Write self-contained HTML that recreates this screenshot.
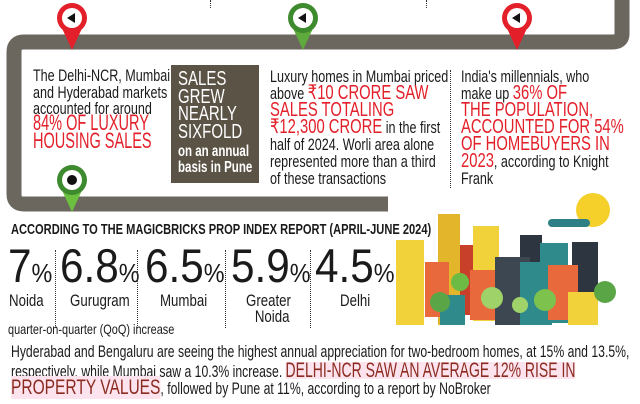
<!DOCTYPE html>
<html><head><meta charset="utf-8"><style>
*{margin:0;padding:0;box-sizing:border-box}
body{width:640px;height:404px;background:#fff;position:relative;overflow:hidden;font-family:"Liberation Sans",sans-serif;color:#1a1a1a}
.a{position:absolute;white-space:nowrap;transform-origin:0 0}
.r{color:#e3202a}
.t{font-size:17px;line-height:16.5px;transform:scaleX(.74)}
.rc{font-size:20px}
.num{font-size:47px;line-height:46px;transform:scaleX(.9)}
.num span{font-size:26px}
.lbl{font-size:17px;line-height:16px;text-align:center;transform:scaleX(.78)}
.dv{position:absolute;border-left:1.5px dotted #333}
</style></head><body>
<svg class="a" style="left:0;top:0" width="640" height="404">
 <path d="M622 0 V34 Q622 42 612 42 H24 Q14 42 14 52 V194 Q14 204 24 204 H388" fill="none" stroke="#6b675f" stroke-width="15"/>
 <g>
  <path d="M60 24 L72 50 L84 24 Z" fill="#e3202a"/><circle cx="72" cy="18" r="15" fill="#e3202a"/><circle cx="72" cy="18" r="10" fill="#fff"/><path d="M67 18 L75 13 V23 Z" fill="#111"/>
  <path d="M291 24 L303 50 L315 24 Z" fill="#5faa3c"/><circle cx="303" cy="18" r="15" fill="#3e8a2e"/><circle cx="303" cy="18" r="10" fill="#fff"/><path d="M298 18 L306 13 V23 Z" fill="#111"/>
  <path d="M505 24 L517 50 L529 24 Z" fill="#e3202a"/><circle cx="517" cy="18" r="15" fill="#e3202a"/><circle cx="517" cy="18" r="10" fill="#fff"/><path d="M512 18 L520 13 V23 Z" fill="#111"/>
  <path d="M72 212 L60 186 L84 186 Z" fill="#6cbf3f"/><circle cx="72" cy="180" r="15" fill="#3e8a2e"/><circle cx="72" cy="180" r="10" fill="#fff"/><circle cx="72" cy="180" r="5" fill="#111"/>
 </g>
 <circle cx="593" cy="210" r="17" fill="#f5cf2a"/>
 <rect x="548" y="219" width="42" height="8" rx="4" fill="#2e7f86"/>
 <rect x="396" y="240" width="28" height="85" fill="#f2d23a"/>
 <rect x="438" y="214" width="22" height="111" fill="#e2b52a"/>
 <rect x="460" y="245" width="14" height="70" fill="#c9402a"/>
 <rect x="473" y="226" width="26" height="95" fill="#f2d23a"/>
 <rect x="425" y="262" width="24" height="55" fill="#e86a3c"/>
 <rect x="470" y="270" width="26" height="50" fill="#e86a3c"/>
 <rect x="520" y="235" width="22" height="85" fill="#2d3640"/>
 <rect x="540" y="243" width="28" height="80" fill="#2f8b8b"/>
 <rect x="572" y="242" width="26" height="80" fill="#2d3640"/>
 <rect x="495" y="257" width="35" height="68" fill="#3d4752"/>
 <rect x="520" y="262" width="32" height="63" fill="#2f8b8b"/>
 <rect x="548" y="265" width="30" height="55" fill="#e86a3c"/>
 <rect x="568" y="292" width="30" height="33" fill="#f2d23a"/>
 <rect x="440" y="295" width="25" height="30" fill="#2f8b8b"/>
 <circle cx="440" cy="302" r="10" fill="#5aa646"/><circle cx="492" cy="298" r="11" fill="#9fd36a"/><circle cx="545" cy="300" r="11" fill="#7cc24d"/><circle cx="605" cy="292" r="11" fill="#5aa646"/><circle cx="460" cy="282" r="9" fill="#6dbb44"/><circle cx="520" cy="305" r="8" fill="#9fd36a"/>
</svg>
<div class="dv" style="left:210px;top:0;height:8px"></div>
<div class="dv" style="left:426px;top:0;height:8px"></div>
<div class="dv" style="left:450px;top:70px;height:118px"></div>

<div class="a t" style="left:33px;top:68px">The Delhi-NCR, Mumbai,<br>and Hyderabad markets<br>accounted for around</div>
<div class="a r" style="left:33px;top:114px;font-size:22px;line-height:18px;transform:scaleX(.66)">84% OF LUXURY<br>HOUSING SALES</div>

<div class="a" style="left:171px;top:65px;width:88px;height:118px;background:#5b5345"></div>
<div class="a" style="left:178px;top:71px;color:#fff;font-size:20px;line-height:17.5px;transform:scaleX(.75)">SALES<br>GREW<br>NEARLY<br>SIXFOLD</div>
<div class="a" style="left:178px;top:144px;color:#fff;font-size:16px;line-height:16px;font-weight:bold;transform:scaleX(.72)">on an annual<br>basis in Pune</div>

<div class="a t" style="left:270px;top:68px;line-height:17px">Luxury homes in Mumbai priced<br>above <span class="r rc">₹10 CRORE SAW</span><br><span class="r rc">SALES TOTALING</span><br><span class="r rc">₹12,300 CRORE</span> in the first<br>half of 2024. Worli area alone<br>represented more than a third<br>of these transactions</div>

<div class="a t" style="left:461px;top:68px;line-height:17px">India's millennials, who<br>make up <span class="r rc">36% OF</span><br><span class="r rc">THE POPULATION,</span><br><span class="r rc">ACCOUNTED FOR 54%</span><br><span class="r rc">OF HOMEBUYERS IN</span><br><span class="r rc">2023</span>, according to Knight<br>Frank</div>

<div class="a" style="left:11px;top:221px;font-size:15px;font-weight:bold;transform:scaleX(.74)">ACCORDING TO THE MAGICBRICKS PROP INDEX REPORT (APRIL-JUNE 2024)</div>
<div class="a num" style="left:8px;top:243px">7<span>%</span></div>
<div class="a num" style="left:60px;top:243px">6.8<span>%</span></div>
<div class="a num" style="left:145px;top:243px">6.5<span>%</span></div>
<div class="a num" style="left:231px;top:243px">5.9<span>%</span></div>
<div class="a num" style="left:315px;top:243px">4.5<span>%</span></div>
<div class="dv" style="left:55px;top:250px;height:78px"></div>
<div class="dv" style="left:137px;top:250px;height:78px"></div>
<div class="dv" style="left:225px;top:250px;height:78px"></div>
<div class="dv" style="left:310px;top:250px;height:78px"></div>
<div class="a lbl" style="left:9px;top:293px">Noida</div>
<div class="a lbl" style="left:70px;top:293px">Gurugram</div>
<div class="a lbl" style="left:160px;top:293px">Mumbai</div>
<div class="a lbl" style="left:246px;top:293px">Greater<br>&nbsp;&nbsp;Noida</div>
<div class="a lbl" style="left:340px;top:293px">Delhi</div>
<div class="a" style="left:8px;top:321px;font-size:14px;transform:scaleX(.78)">quarter-on-quarter (QoQ) increase</div>

<div class="a" style="left:11px;top:344px;font-size:16.5px;line-height:17.5px;transform:scaleX(.74)">Hyderabad and Bengaluru are seeing the highest annual appreciation for two-bedroom homes, at 15% and 13.5%,<br>respectively, while Mumbai saw a 10.3% increase. <span style="color:#8b2b1f;font-size:21px;background:#fde3ee;display:inline-block;transform:scaleX(.9);transform-origin:0 0">DELHI-NCR SAW AN AVERAGE 12% RISE IN</span></div>
<div class="a" style="left:11px;top:378px;font-size:16.5px;line-height:19px;transform:scaleX(.74)"><span style="color:#8b2b1f;font-size:21px;background:#fde3ee">PROPERTY VALUES</span>, followed by Pune at 11%, according to a report by NoBroker</div>
</body></html>
